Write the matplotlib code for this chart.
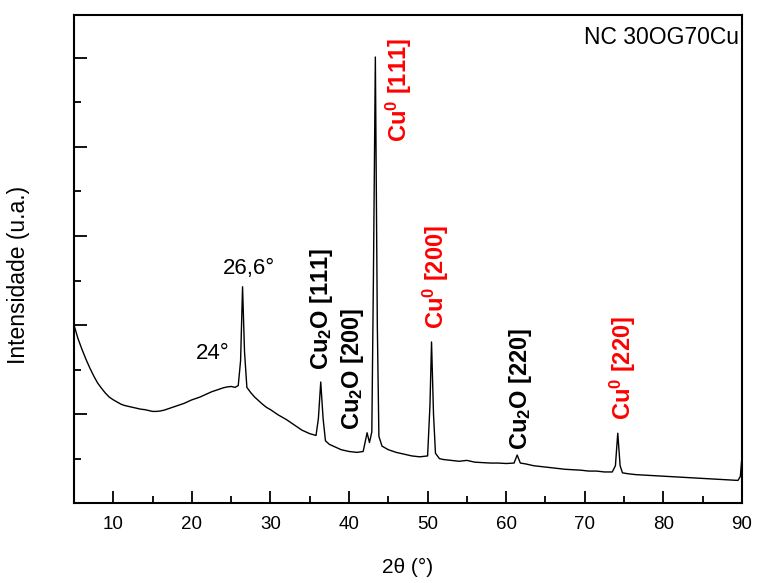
import numpy as np
import matplotlib.pyplot as plt
from matplotlib.ticker import MultipleLocator

plt.rcParams['font.family'] = ['Liberation Sans', 'DejaVu Sans']
plt.rcParams['mathtext.fontset'] = 'custom'
plt.rcParams['mathtext.rm'] = 'Liberation Sans'
plt.rcParams['mathtext.bf'] = 'Liberation Sans:bold'

two_theta = [5.0, 5.5, 6.0, 6.5, 7.0, 7.5, 8.0, 8.5, 9.0, 9.5, 10.0, 10.5, 11.0, 11.5,
             12.0, 12.5, 13.0, 13.5, 14.0, 14.5, 15.0, 15.5, 16.0, 16.5, 17.0, 17.5,
             18.0, 18.5, 19.0, 19.5, 20.0, 20.5, 21.0, 21.5, 22.0, 22.5, 23.0, 23.5,
             24.0, 24.5, 25.0, 25.5, 25.9, 26.2, 26.45, 26.7, 27.0, 27.5, 28.0, 28.5,
             29.0, 29.5, 30.0, 31.0, 32.0, 33.0, 34.0, 35.0, 35.8, 36.1, 36.4, 36.7,
             37.0, 37.5, 38.0, 39.0, 40.0, 41.0, 41.8, 42.3, 42.6, 42.9, 43.1, 43.35,
             43.6, 43.8, 44.2, 45.0, 46.0, 47.0, 48.0, 49.0, 50.0, 50.3, 50.5, 50.75,
             51.0, 51.5, 52.0, 53.0, 54.0, 55.0, 56.0, 57.0, 58.0, 59.0, 60.0, 61.0,
             61.4, 61.8, 62.5, 63.5, 64.5, 65.5, 66.5, 67.5, 68.5, 69.5, 70.5, 71.5,
             72.5, 73.5, 73.9, 74.2, 74.5, 74.8, 75.5, 76.5, 77.5, 78.5, 79.5, 80.5,
             81.5, 82.5, 83.5, 84.5, 85.5, 86.5, 87.5, 88.5, 89.5, 89.8, 90.0]
intensity = [2000, 1850, 1730, 1620, 1520, 1430, 1350, 1290, 1235, 1190, 1160, 1135, 1110, 1095,
             1085, 1075, 1065, 1055, 1050, 1040, 1030, 1030, 1035, 1045, 1060, 1075,
             1090, 1105, 1120, 1140, 1160, 1175, 1190, 1210, 1230, 1250, 1265, 1280,
             1295, 1305, 1310, 1300, 1320, 1600, 2430, 1700, 1300, 1240, 1190, 1150,
             1110, 1075, 1050, 990, 940, 880, 820, 780, 760, 950, 1360, 950,
             700, 660, 640, 600, 580, 570, 580, 790, 680, 800, 2500, 5010,
             2000, 750, 640, 600, 570, 550, 530, 520, 530, 1100, 1810, 1000,
             560, 500, 490, 480, 470, 480, 460, 455, 450, 450, 445, 450,
             540, 450, 440, 420, 410, 400, 390, 380, 375, 370, 360, 360,
             350, 350, 420, 785, 420, 340, 330, 320, 315, 310, 305, 300,
             295, 290, 285, 280, 275, 270, 265, 260, 255, 300, 520]

# peak labels: text, x, y (bottom of rotated text), colour
peak_text = [r'$\mathbf{Cu_2O}$ [111]', r'$\mathbf{Cu_2O}$ [200]', r'$\mathbf{Cu^0}$ [111]',
             r'$\mathbf{Cu^0}$ [200]', r'$\mathbf{Cu_2O}$ [220]', r'$\mathbf{Cu^0}$ [220]']
peak_x = [36.5, 40.5, 46.4, 51.1, 61.8, 74.9]
peak_y = [1500, 820, 4060, 1950, 600, 930]
peak_col = ['black', 'black', 'red', 'red', 'black', 'red']

fig = plt.figure(figsize=(7.59, 5.83), dpi=100)
ax = fig.add_axes([0.0975, 0.137, 0.88, 0.837])
ax.plot(two_theta, intensity, color='black', lw=1.0)

for t, x, y, c in zip(peak_text, peak_x, peak_y, peak_col):
    ax.text(x, y, t, rotation=90, color=c, fontsize=17, fontweight='bold',
            ha='center', va='bottom')

ax.text(27.3, 2640, '26,6°', fontsize=16, ha='center', va='center')
ax.text(22.6, 1675, '24°', fontsize=16, ha='center', va='center')
ax.text(0.995, 0.978, 'NC 30OG70Cu', transform=ax.transAxes, fontsize=16.5,
        ha='right', va='top')

ax.set_xlim(5, 90)
ax.set_ylim(0, 5480)
ax.xaxis.set_major_locator(MultipleLocator(10))
ax.xaxis.set_minor_locator(MultipleLocator(5))
ax.yaxis.set_major_locator(MultipleLocator(1000))
ax.yaxis.set_minor_locator(MultipleLocator(500))
ax.tick_params(which='both', direction='in', top=False, right=False, width=1.3)
ax.tick_params(which='major', length=9, labelsize=13.5, pad=9)
ax.tick_params(which='minor', length=5)
ax.set_yticklabels([])
for s in ax.spines.values():
    s.set_linewidth(1.5)

ax.set_xlabel('2θ (°)', fontsize=15, labelpad=18)
ax.set_ylabel('Intensidade (u.a.)', fontsize=16.5)
ax.yaxis.set_label_coords(-0.066, 0.467)

fig.savefig('out.png', dpi=100)
